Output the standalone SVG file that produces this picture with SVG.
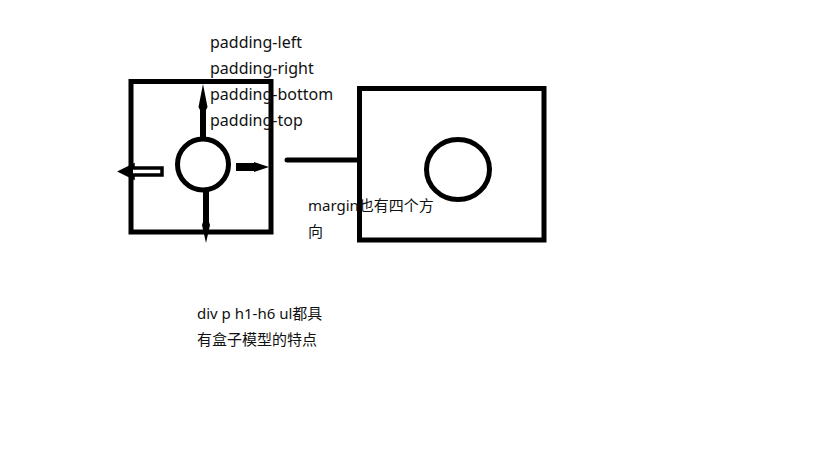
<svg xmlns="http://www.w3.org/2000/svg" width="819" height="460" viewBox="0 0 819 460">
<style>
.box{fill:none;stroke:#000;stroke-width:5}
.ink{fill:#000;stroke:none}
.t{font-family:"Microsoft YaHei","Noto Sans","Noto Sans CJK SC",sans-serif;font-size:15px;fill:#111}
.p{font-size:16px}
</style>
<rect width="819" height="460" fill="#fff"/>
<g id="box-left">
<rect class="box" x="131" y="81.5" width="140" height="150.5"/>
<circle class="box" cx="203" cy="164.5" r="25.5"/>
</g>
<g id="box-right">
<rect class="box" x="359.5" y="88.5" width="184.5" height="151.5"/>
<ellipse class="box" cx="458" cy="169.5" rx="31.5" ry="30"/>
</g>
<g id="arrows">
<polygon class="ink" points="200,138 200,110 198.5,107 203,84 207.5,107 206,110 206,138"/>
<polygon class="ink" points="203,191 203,222 202,225 206,243 210,225 209,222 209,191"/>
<polygon class="ink" points="236,163 254,163 254,162 269,167 254,172 254,171 236,171"/>
<polygon points="162,168 133,168 133,165.5 121,171.5 133,177.5 133,175 162,175" fill="#fff" stroke="#000" stroke-width="3.5" stroke-linejoin="miter"/>
<polygon class="ink" points="133,165 121,171.5 133,178"/>
</g>
<g id="connectors">
<line x1="287" y1="160" x2="358" y2="160" stroke="#000" stroke-width="5" stroke-linecap="round"/>
</g>
<g id="labels">
<text class="t p" x="210" y="48">padding-left</text>
<text class="t p" x="210" y="74">padding-right</text>
<text class="t p" x="210" y="100">padding-bottom</text>
<text class="t p" x="210" y="126">padding-top</text>
<text class="t" x="308" y="211">margin也有四个方</text>
<text class="t" x="308" y="237">向</text>
<text class="t" x="197" y="319">div p h1-h6 ul都具</text>
<text class="t" x="197" y="345">有盒子模型的特点</text>
</g>
</svg>
